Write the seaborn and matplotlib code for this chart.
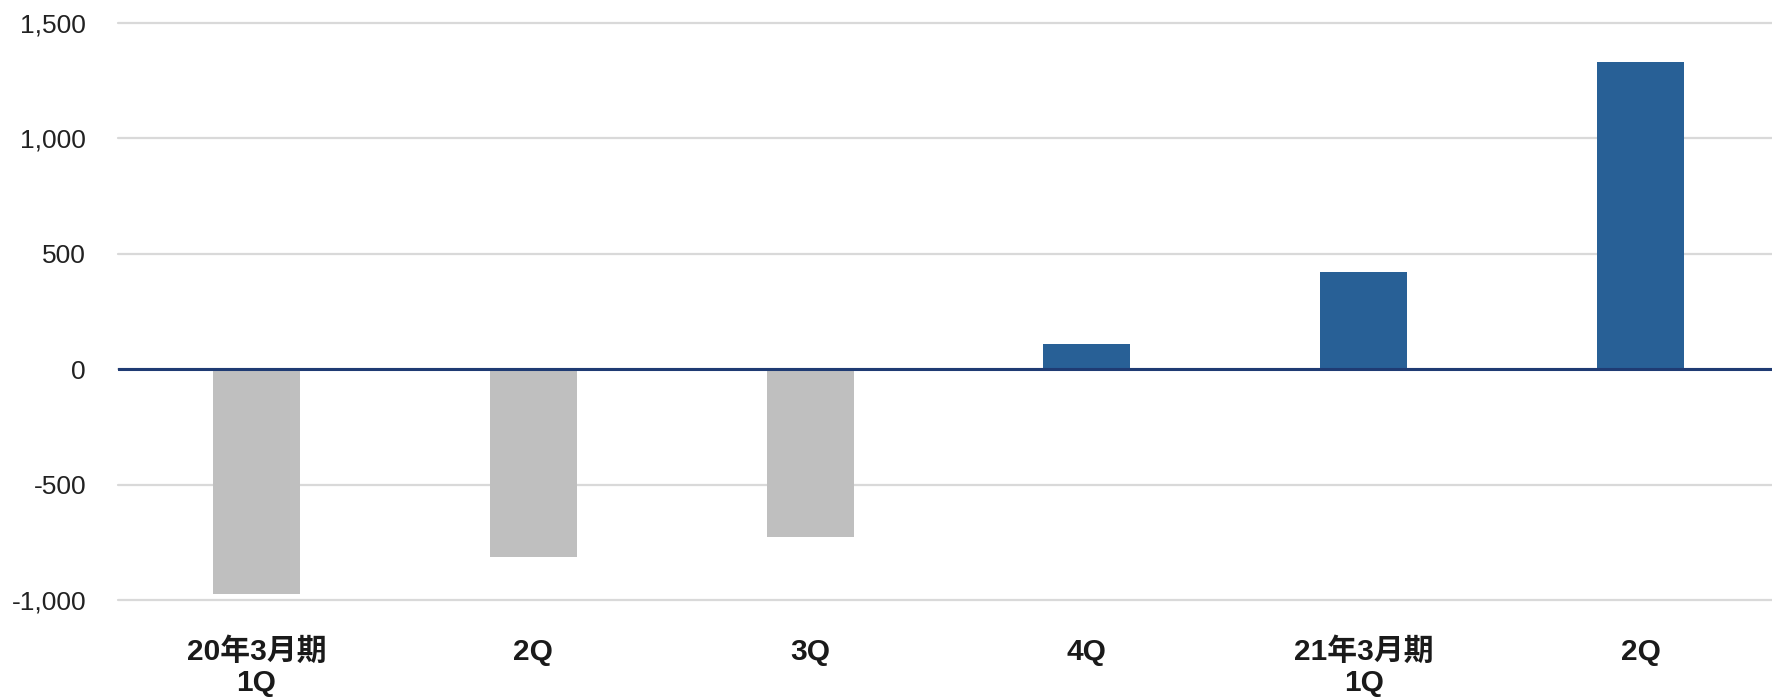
import numpy as np
import pandas as pd
import matplotlib
matplotlib.use("Agg")
import matplotlib.pyplot as plt
import seaborn as sns

# Quarterly operating result (millions of yen)
quarters = ["20年3月期\n1Q", "2Q", "3Q", "4Q", "21年3月期\n1Q", "2Q"]
values = [-976, -813, -726, 108, 420, 1331]
y_ticks = [-1000, -500, 0, 500, 1000, 1500]

sns.set_style("white")
plt.rcParams["font.family"] = ["Liberation Sans", "Noto Sans CJK JP"]

df = pd.DataFrame({
    "pos": np.arange(len(values)),
    "value": values,
    "sign": ["黒字" if v > 0 else "赤字" for v in values],
})

fig = plt.figure(figsize=(17.72, 6.97), dpi=100)
ax = fig.add_axes([118 / 1772, 1 - 600 / 697, 1 - 118 / 1772, (600 - 22.7) / 697])

sns.barplot(
    data=df, x="pos", y="value", hue="sign",
    palette={"赤字": "#BFBFBF", "黒字": "#286096"},
    width=0.314, dodge=False, legend=False, ax=ax, zorder=3,
    saturation=1, linewidth=0,
)

ax.set_ylim(-1000, 1500)
ax.set_xlim(-0.5, 5.475)
ax.set_yticks(y_ticks)
ax.set_yticklabels([f"{v:,}" for v in y_ticks])
ax.set_xticks(range(len(quarters)))
ax.set_xticklabels(quarters, fontweight="bold", fontsize=21.5, color="#1a1a1a",
                   linespacing=1.15)

ax.grid(axis="y", color="#D9D9D9", linewidth=1.6, zorder=0)
ax.grid(axis="x", visible=False)
for gl in ax.get_ygridlines():
    gl.set_clip_on(False)
ax.axhline(0, color="#1F3B73", linewidth=2.2, zorder=4)

for s in ax.spines.values():
    s.set_visible(False)
ax.tick_params(axis="y", length=0, pad=23, labelsize=19, labelcolor="#222222")
ax.tick_params(axis="x", length=0, pad=27)
ax.set_xlabel("")
ax.set_ylabel("")

fig.savefig("out.png", dpi=100, facecolor="white")
